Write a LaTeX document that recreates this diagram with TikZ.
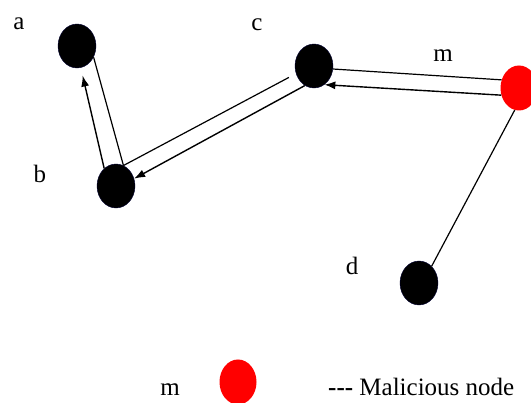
\documentclass[tikz,border=0pt]{standalone}
\usepackage{fontspec}
\setmainfont{Liberation Serif}
\usepackage{tikz}
\usetikzlibrary{shapes.geometric, arrows.meta}

\begin{document}
\begin{tikzpicture}[
        x=1pt, y=-1pt,
        peer/.style={ellipse, fill=black, draw=black!80!blue, inner sep=0pt, minimum width=38pt, minimum height=44pt},
        rogue/.style={ellipse, fill=red, inner sep=0pt, minimum width=37pt, minimum height=45pt},
        tag/.style={anchor=base, inner sep=0pt, font=\fontsize{25}{28}\selectfont},
        link/.style={line width=1.2pt},
        flow/.style={-{Latex[length=11pt, width=8pt]}, line width=1.4pt}
    ]
    \useasboundingbox (0,0) rectangle (531,403);

    \node[peer] (a) at (77,46) {};
    \node[peer] (b) at (116,186) {};
    \node[peer] (c) at (314,66) {};
    \node[peer] (d) at (419,283) {};
    \node[rogue] (m) at (519,88) {};

    \draw[link] (a.-34) -- (b.70);
    \draw[flow, shorten >=8pt] (b.124) -- (a.-80);
    \draw[link, shorten >=8pt] (b.70) -- (c.203);
    \draw[flow] (c.245) -- (b.22);
    \draw[link] (c.-9) -- (m.155);
    \draw[flow] (m.202) -- (c.-61);
    \draw[link] (m.259) -- (d.53);

    % Node labels
    \node[tag] (la) at (19,30) {a};
    \node[tag] (lb) at (40,183) {b};
    \node[tag] (lc) at (257,31) {c};
    \node[tag] (lm) at (443,62) {m};
    \node[tag] (ld) at (352,275) {d};

    % Legend
    \node[tag] (km) at (170,396) {m};
    \node[rogue] (kdot) at (238,382) {};
    \node[tag, anchor=base west] (ktext) at (328,396) {\textbf{{-}{-}{-}} Malicious node};
\end{tikzpicture}
\end{document}
